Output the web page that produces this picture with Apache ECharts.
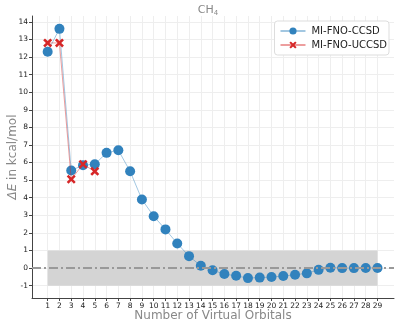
<!DOCTYPE html>
<html>
<head>
<meta charset="utf-8">
<script src="https://cdn.jsdelivr.net/npm/echarts@6/dist/echarts.min.js"></script>
<style>
  html, body { margin: 0; padding: 0; background: #fff; }
  #chart { width: 399px; height: 327px; }
</style>
</head>
<body>
<div id="chart"></div>
<script>
// 轨道数
const orbitals = [1, 2, 3, 4, 5, 6, 7, 8, 9, 10, 11, 12, 13, 14, 15, 16, 17, 18, 19, 20, 21, 22, 23, 24, 25, 26, 27, 28, 29];
const ccsd = [12.3, 13.6, 5.55, 5.85, 5.9, 6.55, 6.7, 5.5, 3.9, 2.95, 2.2, 1.4, 0.68, 0.13, -0.12, -0.34, -0.44, -0.57, -0.54, -0.51, -0.45, -0.38, -0.3, -0.1, 0.02, 0.0, 0.0, 0.01, 0.01];
const uccsdX = [1, 2, 3, 4, 5];
const uccsd = [12.8, 12.8, 5.05, 5.9, 5.5];
const yTicks = [-1, 0, 1, 2, 3, 4, 5, 6, 7, 8, 9, 10, 11, 12, 13, 14];
const band = [-1, 1];   // 化学精度区间

const blue = '#3182bd';
const red = '#d62728';
const xPath = 'path://M2,0 L5,3 L8,0 L10,2 L7,5 L10,8 L8,10 L5,7 L2,10 L0,8 L3,5 L0,2 Z';

const chart = echarts.init(document.getElementById('chart'));
chart.setOption({
    animation: false,
    title: {
        text: 'CH{sub|4}',
        left: 203,
        top: -1,
        textAlign: 'center',
        textStyle: {
            color: '#888',
            fontSize: 11,
            fontWeight: 'normal',
            fontFamily: 'DejaVu Sans',
            rich: { sub: { fontSize: 7, color: '#888', verticalAlign: 'bottom', padding: [6, 0, 0, 0] } }
        }
    },
    legend: {
        right: 10,
        top: 21,
        orient: 'vertical',
        itemWidth: 25,
        itemHeight: 9,
        itemGap: 4,
        padding: [5, 2, 5, 5],
        borderColor: '#ddd',
        borderWidth: 1,
        borderRadius: 3,
        backgroundColor: '#fff',
        textStyle: { fontSize: 10, color: '#222', fontFamily: 'DejaVu Sans', padding: [0, 0, 0, 1] },
        data: ['MI-FNO-CCSD', 'MI-FNO-UCCSD']
    },
    grid: { left: 32, right: 5, top: 16, bottom: 29, outerBoundsMode: 'none' },
    xAxis: {
        type: 'value',
        min: -0.33,
        max: 30.4,
        name: 'Number of Virtual Orbitals',
        nameLocation: 'middle',
        nameGap: 12,
        nameMoveOverlap: false,
        nameTextStyle: { color: '#888', fontSize: 12, fontFamily: 'DejaVu Sans', verticalAlign: 'top' },
        axisLine: { show: true, onZero: false, lineStyle: { color: '#444', width: 1 } },
        axisTick: { show: true, length: 3, customValues: orbitals, lineStyle: { color: '#444' } },
        axisLabel: { customValues: orbitals, fontSize: 7.5, color: '#222', margin: 4, fontFamily: 'DejaVu Sans' },
        splitLine: { show: true, lineStyle: { color: '#eee', width: 1 } }
    },
    yAxis: {
        type: 'value',
        min: -1.7,
        max: 14.33,
        name: '{d|ΔE} {n|in kcal/mol}',
        nameLocation: 'middle',
        nameGap: 13,
        nameMoveOverlap: false,
        nameTextStyle: {
            color: '#888', fontSize: 12, fontFamily: 'DejaVu Sans', verticalAlign: 'bottom',
            rich: {
                d: { fontStyle: 'italic', color: '#888', fontSize: 12, fontFamily: 'DejaVu Sans' },
                n: { color: '#888', fontSize: 12, fontFamily: 'DejaVu Sans' }
            }
        },
        axisLine: { show: true, onZero: false, lineStyle: { color: '#444', width: 1 } },
        axisTick: { show: true, length: 3, customValues: yTicks, lineStyle: { color: '#444' } },
        axisLabel: { customValues: yTicks, fontSize: 7.5, color: '#222', margin: 4, fontFamily: 'DejaVu Sans' },
        splitLine: { show: true, lineStyle: { color: '#eee', width: 1 } }
    },
    series: [
        {
            name: 'MI-FNO-CCSD',
            type: 'line',
            data: orbitals.map((x, i) => [x, ccsd[i]]),
            symbol: 'circle',
            symbolSize: 10,
            itemStyle: { color: blue },
            lineStyle: { color: blue, width: 1, opacity: 0.45 },
            z: 3,
            markArea: {
                silent: true,
                itemStyle: { color: '#d4d4d4', opacity: 1 },
                data: [[{ coord: [orbitals[0], band[0]] }, { coord: [orbitals[orbitals.length - 1], band[1]] }]]
            },
            markLine: {
                silent: true,
                symbol: 'none',
                label: { show: false },
                lineStyle: { color: '#999', width: 2, type: [9, 3, 2, 3] },
                data: [{ yAxis: 0 }]
            }
        },
        {
            name: 'MI-FNO-UCCSD',
            type: 'line',
            data: uccsdX.map((x, i) => [x, uccsd[i]]),
            symbol: xPath,
            symbolSize: 9,
            itemStyle: { color: red },
            lineStyle: { color: red, width: 1, opacity: 0.45 },
            z: 4
        }
    ]
});
</script>
</body>
</html>
